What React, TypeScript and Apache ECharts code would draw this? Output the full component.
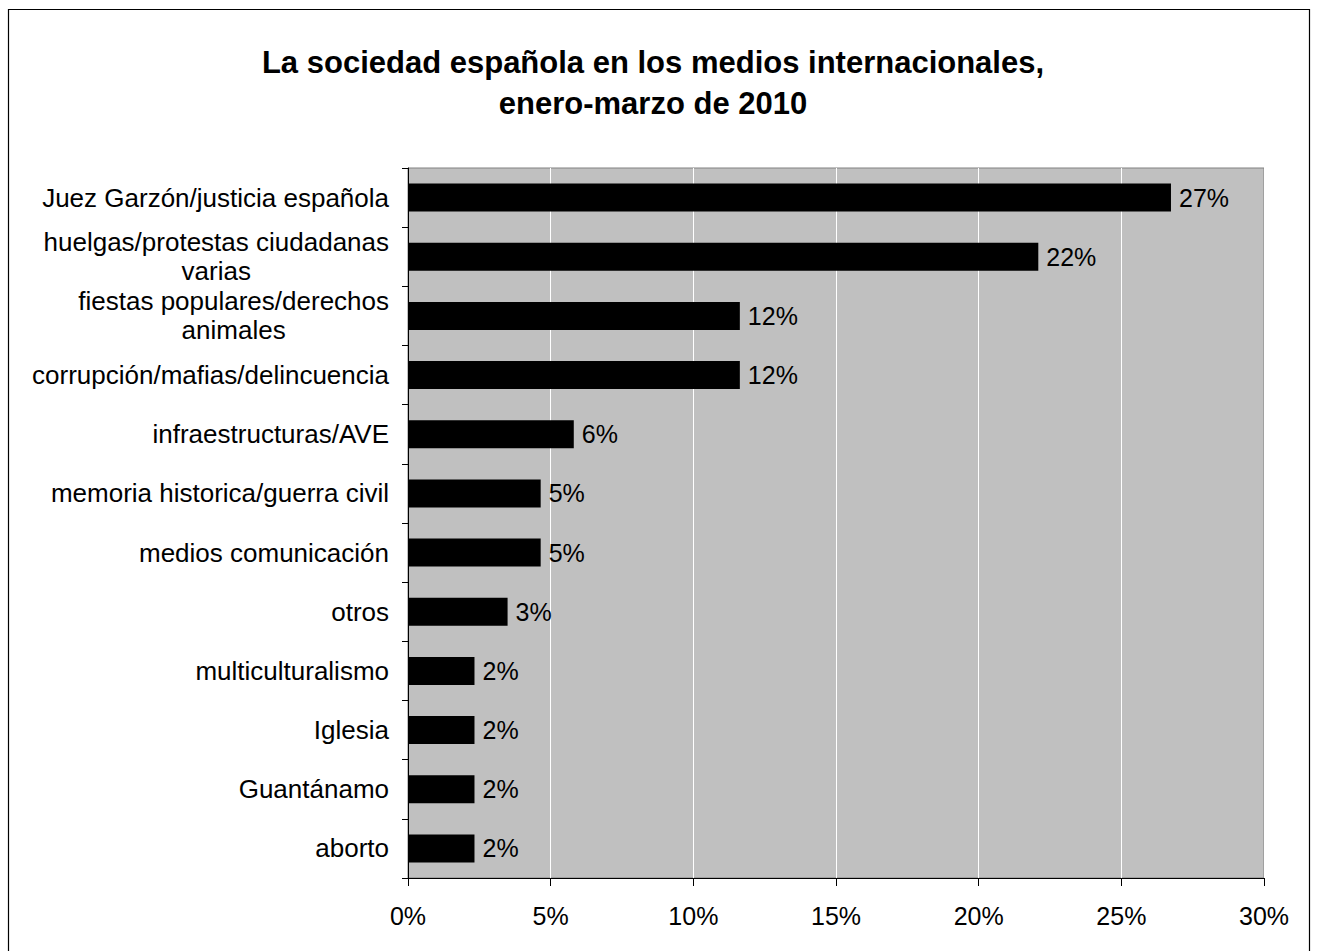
import React, { useEffect, useRef } from "react";
import * as echarts from "echarts";

const categories: string[] = [
  "Juez Garzón/justicia española",
  "huelgas/protestas ciudadanas\nvarias",
  "fiestas populares/derechos\nanimales",
  "corrupción/mafias/delincuencia",
  "infraestructuras/AVE",
  "memoria historica/guerra civil",
  "medios comunicación",
  "otros",
  "multiculturalismo",
  "Iglesia",
  "Guantánamo",
  "aborto",
];

const values: number[] = [26.74, 22.09, 11.63, 11.63, 5.81, 4.65, 4.65, 3.49, 2.33, 2.33, 2.33, 2.33];

const xTicks: number[] = [0, 5, 10, 15, 20, 25, 30];

const titleLines: string[] = [
  "La sociedad española en los medios internacionales,",
  "enero-marzo de 2010",
];

const FONT = "'Liberation Sans', Arial, Helvetica, sans-serif";

export default function App() {
  const ref = useRef<HTMLDivElement>(null);
  useEffect(() => {
    if (!ref.current) return;
    const chart = echarts.init(ref.current, undefined, { renderer: "svg" });
    chart.setOption({
      animation: false,
      backgroundColor: "#ffffff",
      textStyle: { fontFamily: FONT },
      title: {
        text: titleLines.join("\n"),
        left: 648,
        top: 37,
        textAlign: "center",
        textStyle: {
          fontFamily: FONT,
          fontSize: 31,
          fontWeight: "bold",
          color: "#000",
          lineHeight: 41,
        },
      },
      graphic: [
        {
          type: "rect",
          shape: { x: 8.5, y: 9.5, width: 1301, height: 1000 },
          style: { fill: "none", stroke: "#000", lineWidth: 1.2 },
          silent: true,
        },
      ],
      grid: {
        left: 408,
        top: 168,
        right: 53,
        bottom: 73,
        show: true,
        backgroundColor: "#c0c0c0",
        borderColor: "#808080",
        borderWidth: 1,
      },
      xAxis: {
        type: "value",
        min: xTicks[0],
        max: xTicks[xTicks.length - 1],
        interval: xTicks[1] - xTicks[0],
        axisLine: { show: true, lineStyle: { color: "#000", width: 1 } },
        axisTick: { show: true, length: 8, lineStyle: { color: "#000" } },
        splitLine: { show: true, lineStyle: { color: "#ffffff", width: 1 } },
        axisLabel: {
          formatter: (v: number) => v + "%",
          fontSize: 25,
          color: "#000",
          margin: 25,
          fontFamily: FONT,
        },
      },
      yAxis: {
        type: "category",
        inverse: true,
        data: categories,
        axisLine: { show: true, lineStyle: { color: "#000", width: 1 } },
        axisTick: { show: true, length: 6, lineStyle: { color: "#000" } },
        axisLabel: {
          fontSize: 26,
          color: "#000",
          margin: 19,
          fontFamily: FONT,
          formatter: (v: string) =>
            v
              .split("\n")
              .map((l) => "{c|" + l + "}")
              .join("\n"),
          rich: {
            c: {
              align: "center",
              fontSize: 26,
              lineHeight: 29,
              color: "#000",
              fontFamily: FONT,
            },
          },
        },
      },
      series: [
        {
          type: "bar",
          data: values,
          barWidth: 28,
          itemStyle: { color: "#000" },
          label: {
            show: true,
            position: "right",
            distance: 8,
            fontSize: 25,
            color: "#000",
            fontFamily: FONT,
            formatter: (p: any) => Math.round(p.value) + "%",
          },
        },
      ],
    });
    return () => chart.dispose();
  }, []);
  return (
    <div
      ref={ref}
      style={{ position: "fixed", left: 0, top: 0, width: 1317, height: 951 }}
    />
  );
}
